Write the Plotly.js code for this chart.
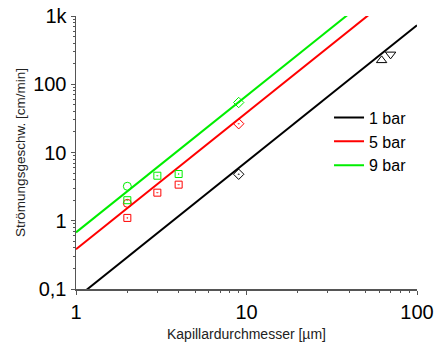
<!DOCTYPE html>
<html>
<head>
<meta charset="utf-8">
<script src="https://cdn.plot.ly/plotly-3.0.1.min.js"></script>
<style>html,body{margin:0;padding:0;background:#fff;}#chart{width:436px;height:342px;}</style>
</head>
<body>
<div id="chart"></div>
<script>
// Fit lines (slope 2 on log-log)
var lineX = [1, 100];
var line1bar = [0.0731, 731];
var line5bar = [0.382, 3820];
var line9bar = [0.676, 6760];

// Measured points
var g9CircleX = [2], g9CircleY = [3.2];
var g9SquareX = [2, 3, 4], g9SquareY = [2.0, 4.57, 4.84];
var r5CircleX = [2], r5CircleY = [1.8];
var r5SquareX = [2, 3, 4], r5SquareY = [1.1, 2.58, 3.38];
var g9DiamondX = [9], g9DiamondY = [54];
var r5DiamondX = [9], r5DiamondY = [26.4];
var b1DiamondX = [9], b1DiamondY = [4.8];
var b1TriUpX = [62], b1TriUpY = [224];
var b1TriDownX = [70], b1TriDownY = [274];

var xTickVals = [1, 10, 100];
var xTickText = ['1', '10', '100'];
var yTickVals = [0.1, 1, 10, 100, 1000];
var yTickText = ['0,1', '1', '10', '100', '1k'];
var minorDigits = [2, 3, 4, 5, 6, 7, 8, 9];

function minorVals(majors) {
  var out = [];
  for (var i = 0; i < majors.length - 1; i++)
    for (var j = 0; j < minorDigits.length; j++) out.push(majors[i] * minorDigits[j]);
  return out;
}
var xMinor = minorVals(xTickVals);
var yMinor = minorVals(yTickVals);

var BLACK = '#000000', RED = '#ff0000', GREEN = '#00ee00';

function lineTrace(y, color, name) {
  return {x: lineX, y: y, mode: 'lines', name: name, line: {color: color, width: 2}};
}
function markTrace(x, y, color, symbol, size) {
  return {x: x, y: y, mode: 'markers', showlegend: false,
    marker: {symbol: symbol, size: size, color: color, line: {color: color, width: 1}}};
}

var data = [
  lineTrace(line1bar, BLACK, '1 bar'),
  lineTrace(line5bar, RED, '5 bar'),
  lineTrace(line9bar, GREEN, '9 bar'),
  markTrace(r5CircleX, r5CircleY, RED, 'circle-open', 8),
  markTrace(g9CircleX, g9CircleY, GREEN, 'circle-open', 8),
  markTrace(r5SquareX, r5SquareY, RED, 'square-open-dot', 7),
  markTrace(g9SquareX, g9SquareY, GREEN, 'square-open-dot', 7),
  markTrace(g9DiamondX, g9DiamondY, GREEN, 'diamond-open-dot', 8),
  markTrace(r5DiamondX, r5DiamondY, RED, 'diamond-open-dot', 8),
  markTrace(b1DiamondX, b1DiamondY, BLACK, 'diamond-open-dot', 8),
  markTrace(b1TriUpX, b1TriUpY, BLACK, 'triangle-up-open', 9),
  markTrace(b1TriDownX, b1TriDownY, BLACK, 'triangle-down-open', 9)
];

var AX = '#555555';
var FONT = 'Liberation Sans, Arial, sans-serif';
var layout = {
  width: 436, height: 342,
  margin: {l: 76, r: 19, t: 16, b: 53},
  paper_bgcolor: '#fff', plot_bgcolor: '#fff',
  font: {family: FONT, color: '#000'},
  showlegend: true,
  legend: {x: 0.742, y: 0.69, xanchor: 'left', yanchor: 'top', bgcolor: 'rgba(0,0,0,0)',
    font: {size: 16, family: FONT}, tracegroupgap: 0},
  xaxis: {type: 'log', range: [0, 2], showgrid: false, zeroline: false,
    showline: true, linecolor: AX, linewidth: 1.5,
    tickvals: xTickVals, ticktext: xTickText, ticks: 'outside', ticklen: 4, tickcolor: AX, tickwidth: 1,
    minor: {tickmode: 'array', tickvals: xMinor, ticks: 'outside', ticklen: 2, tickcolor: AX, tickwidth: 1, showgrid: false},
    tickfont: {size: 20, family: FONT},
    title: {text: 'Kapillardurchmesser [µm]', font: {size: 14, family: FONT, color: '#222'}, standoff: 10}},
  yaxis: {type: 'log', range: [-1, 3], showgrid: false, zeroline: false,
    showline: true, linecolor: AX, linewidth: 1.5,
    tickvals: yTickVals, ticktext: yTickText, ticks: 'outside', ticklen: 4, tickcolor: AX, tickwidth: 1,
    minor: {tickmode: 'array', tickvals: yMinor, ticks: 'outside', ticklen: 2, tickcolor: AX, tickwidth: 1, showgrid: false},
    tickfont: {size: 20, family: FONT},
    title: {text: 'Strömungsgeschw. [cm/min]', font: {size: 13.5, family: FONT, color: '#222'}, standoff: 4}},
  xaxis2: {type: 'log', range: [0, 2], overlaying: 'x', side: 'top', showgrid: false, zeroline: false,
    showline: true, linecolor: AX, linewidth: 1.5, tickvals: xTickVals, showticklabels: false,
    ticks: 'inside', ticklen: 4, tickcolor: AX, tickwidth: 1,
    minor: {tickmode: 'array', tickvals: xMinor, ticks: 'inside', ticklen: 2, tickcolor: AX, tickwidth: 1, showgrid: false}},
  yaxis2: {type: 'log', range: [-1, 3], overlaying: 'y', side: 'right', showgrid: false, zeroline: false,
    showline: true, linecolor: AX, linewidth: 1.5, tickvals: yTickVals, showticklabels: false,
    ticks: 'inside', ticklen: 4, tickcolor: AX, tickwidth: 1,
    minor: {tickmode: 'array', tickvals: yMinor, ticks: 'inside', ticklen: 2, tickcolor: AX, tickwidth: 1, showgrid: false}}
};

Plotly.newPlot('chart', data, layout, {displayModeBar: false, staticPlot: true});
</script>
</body>
</html>
